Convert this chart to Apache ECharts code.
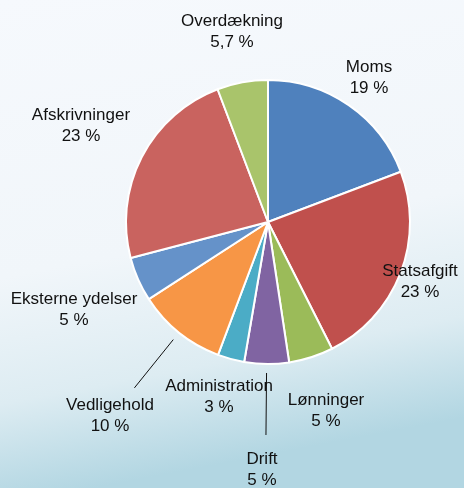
<!DOCTYPE html>
<html>
<head>
<meta charset="utf-8">
<title>Udgifter</title>
<script src="https://cdn.jsdelivr.net/npm/echarts@6/dist/echarts.min.js"></script>
<style>
  html, body { margin: 0; padding: 0; }
  #main { width: 464px; height: 488px; }
</style>
</head>
<body>
<div id="main"></div>
<script type="text/javascript">
// data, clockwise from 12 o'clock
var names = ['Moms', 'Statsafgift', 'Lønninger', 'Drift', 'Administration',
             'Vedligehold', 'Eksterne ydelser', 'Afskrivninger', 'Overdækning'];
var shares = [19, 23, 5, 5, 3, 10, 5, 23, 5.7];
var colors = ['#4F81BD', '#C0504D', '#9BBB59', '#8064A2', '#4BACC6',
              '#F79646', '#6592C9', '#C9635F', '#A9C46B'];

// where each label sits (centre of the text block)
var labelSpots = [
    [369, 78], [420, 282], [326, 411], [262, 470], [219, 397],
    [110, 416], [74, 310], [81, 126], [232, 32]
];
var withLine = { 'Vedligehold': true, 'Drift': true };

var cx = 268, cy = 222, R = 142;

var total = 0;
for (var k = 0; k < shares.length; k++) total += shares[k];

// straight radial leader a little outside the slice
function leader(idx) {
    var before = 0;
    for (var j = 0; j < idx; j++) before += shares[j];
    var mid = (before + shares[idx] / 2) / total * Math.PI * 2;
    var sx = Math.sin(mid), sy = -Math.cos(mid);
    return [[cx + sx * (R + 9), cy + sy * (R + 9)],
            [cx + sx * (R + 71), cy + sy * (R + 71)]];
}

var pieData = [];
for (var i = 0; i < names.length; i++) {
    pieData.push({
        name: names[i],
        value: shares[i],
        itemStyle: { color: colors[i] },
        labelLine: { show: !!withLine[names[i]] }
    });
}

var myChart = echarts.init(document.getElementById('main'));
myChart.setOption({
    animation: false,
    backgroundColor: {
        type: 'linear', x: 0, y: 0, x2: 0.2, y2: 1,
        colorStops: [
            { offset: 0, color: '#F6F9FD' },
            { offset: 0.55, color: '#F1F6FA' },
            { offset: 0.8, color: '#DDECF2' },
            { offset: 1, color: '#B2D6E2' }
        ]
    },
    series: [{
        type: 'pie',
        center: [cx, cy],
        radius: R,
        startAngle: 90,
        clockwise: true,
        avoidLabelOverlap: false,
        itemStyle: { borderColor: '#FFFFFF', borderWidth: 2 },
        label: {
            show: true,
            position: 'outside',
            color: '#111111',
            fontFamily: 'Liberation Sans',
            fontSize: 17,
            lineHeight: 21,
            align: 'center',
            formatter: function (p) {
                return p.name + '\n' + String(p.value).replace('.', ',') + ' %';
            }
        },
        labelLine: {
            length: 10,
            length2: 10,
            lineStyle: { color: '#111111', width: 1 }
        },
        labelLayout: function (params) {
            var s = labelSpots[params.dataIndex];
            var out = {
                x: s[0], y: s[1],
                align: 'center',
                verticalAlign: 'middle'
            };
            if (withLine[names[params.dataIndex]]) {
                out.labelLinePoints = leader(params.dataIndex);
            }
            return out;
        },
        emphasis: { disabled: true },
        data: pieData
    }]
});
</script>
</body>
</html>
